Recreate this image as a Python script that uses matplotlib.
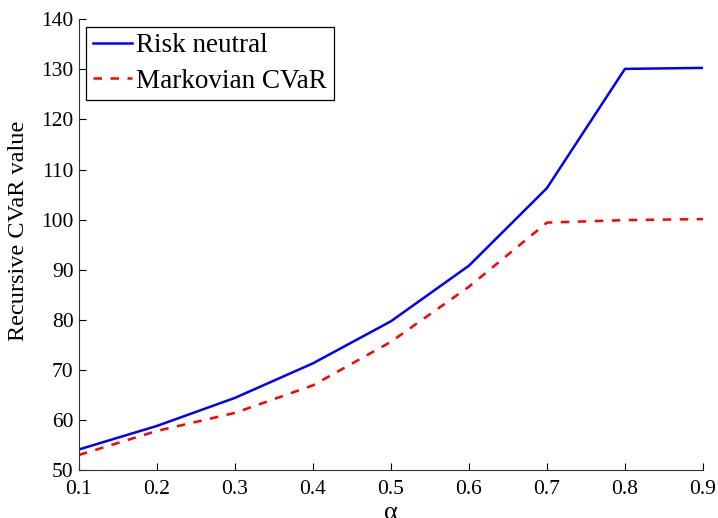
import matplotlib
matplotlib.use('Agg')
import matplotlib.pyplot as plt

alpha = [0.1, 0.2, 0.3, 0.4, 0.5, 0.6, 0.7, 0.8, 0.9]
risk_neutral = [54.1, 58.8, 64.4, 71.3, 79.7, 90.8, 106.3, 130.1, 130.3]
markov_cvar = [53.0, 57.8, 61.4, 66.9, 75.6, 86.6, 99.4, 99.9, 100.1]

plt.rcParams['font.family'] = ['Liberation Serif', 'DejaVu Serif']
plt.rcParams['font.size'] = 15.5

fig = plt.figure(figsize=(7.18, 5.18), dpi=100)
ax = fig.add_axes([0.110, 0.0927, 0.869, 0.870])

ax.plot(alpha, risk_neutral, color='#0000ff', lw=1.8, label='Risk neutral')
ax.plot(alpha, markov_cvar, color='#ff0000', lw=1.8, ls=(0, (3.4, 3.4)), label='Markovian CVaR')

ax.set_xlim(0.1, 0.9)
ax.set_ylim(50, 140)
ax.set_xticks(alpha)
ax.set_xticklabels(['%.1f' % a for a in alpha])
ax.set_yticks(range(50, 141, 10))

for s in ['top', 'right']:
    ax.spines[s].set_visible(False)
ax.spines['left'].set_color('#333333')
ax.spines['bottom'].set_color('#333333')
ax.tick_params(direction='in', length=5, width=0.8)
ax.tick_params(axis='x', pad=7)
ax.tick_params(axis='y', pad=4)

ax.set_ylabel('Recursive CVaR value', fontsize=17.5)
ax.yaxis.set_label_coords(-0.080, 0.53)
ax.set_xlabel('α', fontsize=19)
ax.xaxis.set_label_coords(0.5, -0.071)

leg = ax.legend(loc='upper left', bbox_to_anchor=(0.0112, 0.984), fancybox=False,
                framealpha=1, edgecolor='black', handlelength=1.45, fontsize=19.5,
                handletextpad=0.15, borderpad=0.25, labelspacing=0.38, borderaxespad=0)
leg.get_frame().set_linewidth(0.9)

fig.savefig('out.png', dpi=100)
